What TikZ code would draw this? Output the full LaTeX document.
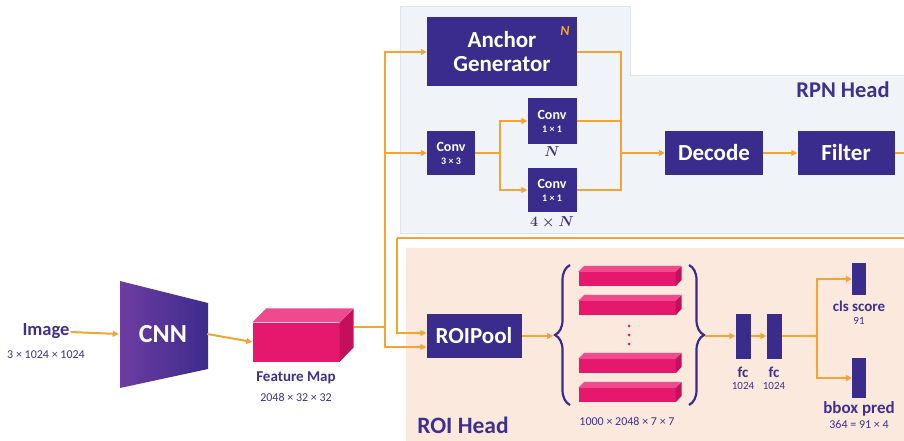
\documentclass[tikz,border=0pt]{standalone}
\usepackage{fontspec}
\setmainfont{Carlito}
\usepackage{amsmath}
\usetikzlibrary{positioning, arrows.meta, calc, decorations.pathreplacing}

\definecolor{boxpurple}{HTML}{3A2C8C}
\definecolor{textpurple}{HTML}{3F2F8F}
\definecolor{lineorange}{HTML}{F4A431}
\definecolor{cubepink}{HTML}{E6186E}
\definecolor{cubetop}{HTML}{EE4A8D}
\definecolor{cubeside}{HTML}{C40F5A}
\definecolor{rpnbg}{HTML}{F0F4F8}
\definecolor{rpnedge}{HTML}{DEE4EA}
\definecolor{roibg}{HTML}{FBE9DE}
\definecolor{cnnleft}{HTML}{6E3CA2}
\definecolor{cnnright}{HTML}{3C2C8C}

\begin{document}
\begin{tikzpicture}[x=1pt, y=-1pt,
    node distance=3pt,
    block/.style={rectangle, fill=boxpurple, text=white, align=center, inner sep=0pt,
      font=\bfseries\fontsize{23}{24}\selectfont},
    smallblock/.style={block, minimum width=48pt, minimum height=44pt,
      font=\bfseries\fontsize{14}{14}\selectfont},
    bar/.style={rectangle, fill=boxpurple, inner sep=0pt, minimum width=15pt},
    lbl/.style={text=textpurple, inner sep=1pt, font=\bfseries\fontsize{15}{16}\selectfont},
    dim/.style={text=textpurple, inner sep=1pt, font=\fontsize{12}{13}\selectfont},
    mathlbl/.style={text=textpurple, inner sep=1pt, font=\fontsize{14.4}{15}\selectfont},
    link/.style={draw=lineorange, line width=2pt},
    flow/.style={link, -{Triangle[length=6pt,width=6pt]}},
    curly/.style={draw=boxpurple, line width=2.2pt, decorate,
      decoration={brace, amplitude=15pt}},
    slab/.style={rectangle, fill=cubepink, inner sep=0pt, minimum width=97pt, minimum height=14pt}
  ]
    \useasboundingbox (0,0) rectangle (904,441);
    \clip (0,0) rectangle (904,441);

    % Head backgrounds
    \filldraw[fill=rpnbg, draw=rpnedge, thin] (400,6) -- (630,6) -- (630,75) -- (910,75)
      -- (910,233) -- (400,233) -- cycle;
    \fill[roibg] (406,248) rectangle (910,445);
    \node[text=textpurple, font=\bfseries\fontsize{22.5}{24}\selectfont] (rpnlbl) at (843,90) {RPN Head};
    \node[text=textpurple, font=\bfseries\fontsize{23.5}{25}\selectfont] (roilbl) at (463,425) {ROI Head};

    % Backbone
    \node[lbl, font=\bfseries\fontsize{18.5}{20}\selectfont] (img) at (46,331) {Image};
    \node[dim, below=10pt of img] (imgdim) {3 × 1024 × 1024};
    \shade[left color=cnnleft, right color=cnnright] (120,281) -- (208,303) -- (208,369) -- (120,388) -- cycle;
    \node[text=white, minimum width=88pt, minimum height=107pt, inner sep=0pt,
      font=\bfseries\fontsize{26}{28}\selectfont] (cnn) at (163,334) {CNN};

    % Feature map cuboid
    \node[rectangle, fill=cubepink, minimum width=87pt, minimum height=39pt, inner sep=0pt] (fmap) at (296,342) {};
    \fill[cubetop] (fmap.north west) -- ++(14,-14) -- ++(87,0) -- (fmap.north east) -- cycle;
    \fill[cubeside] (fmap.north east) -- ++(14,-14) -- ++(0,39) -- (fmap.south east) -- cycle;
    \node[lbl, below=9pt of fmap] (fmaplbl) {Feature Map};
    \node[dim, below=7pt of fmaplbl] (fmapdim) {2048 × 32 × 32};
    \coordinate (fmapout) at ($(fmap.east)+(14,-15)$);

    % RPN blocks
    \node[block, minimum width=150pt, minimum height=69pt] (anchor) at (502,52) {Anchor\\Generator};
    \node[text=lineorange, font=\bfseries\itshape\fontsize{14}{14}\selectfont] at (565,31) {N};
    \node[smallblock] (conv3) at (451,153) {Conv\\[-1pt]{\fontsize{10}{10}\selectfont 3 × 3}};
    \node[smallblock, minimum width=49pt, minimum height=45pt] (conv1a) at (552,121) {Conv\\[-1pt]{\fontsize{10}{10}\selectfont 1 × 1}};
    \node[smallblock, minimum width=49pt] (conv1b) at (552,190) {Conv\\[-1pt]{\fontsize{10}{10}\selectfont 1 × 1}};
    \node[mathlbl, below=2pt of conv1a] (nlbl) {$\boldsymbol{N}$};
    \node[mathlbl, below=3pt of conv1b] (fournlbl) {$\boldsymbol{4\times N}$};
    \node[block, minimum width=98pt, minimum height=44pt] (decode) at (714,153) {Decode};
    \node[block, minimum width=97pt, minimum height=44pt] (filter) at (846,153) {Filter};

    % ROI blocks
    \node[block, minimum width=95pt, minimum height=44pt] (roi) at (474,336) {ROIPool};
    \foreach \y [count=\i] in {279,308,366,395} {
      \node[slab] (slab\i) at (627,\y) {};
      \fill[cubetop] (slab\i.north west) -- ++(6,-6) -- ++(97,0) -- (slab\i.north east) -- cycle;
      \fill[cubeside] (slab\i.north east) -- ++(6,-6) -- ++(0,14) -- (slab\i.south east) -- cycle;
    }
    \foreach \d in {326,335,344}
      \fill[cubepink] (629,\d) circle (1.5);
    \node[dim] (slabdim) at (627,421) {1000 × 2048 × 7 × 7};
    \draw[curly] (570,405) -- (570,265);
    \draw[curly] (689,265) -- (689,405);
    \coordinate (lbtip) at (553,336);
    \coordinate (rbtip) at (705,336);

    \node[bar, minimum height=45pt] (fc1) at (743,336) {};
    \node[bar, minimum height=45pt] (fc2) at (774,336) {};
    \node[bar, minimum width=14pt, minimum height=32pt] (cls) at (859,279) {};
    \node[bar, minimum width=14pt, minimum height=40pt] (bbox) at (859,378) {};
    \node[lbl, below=7pt of fc1] (fc1lbl) {fc};
    \node[dim, font=\fontsize{11}{12}\selectfont, below=3pt of fc1lbl] {1024};
    \node[lbl, below=7pt of fc2] (fc2lbl) {fc};
    \node[dim, font=\fontsize{11}{12}\selectfont, below=3pt of fc2lbl] {1024};
    \node[lbl, below=5pt of cls] (clslbl) {cls score};
    \node[dim, font=\fontsize{11}{12}\selectfont, below=3pt of clslbl] {91};
    \node[lbl, font=\bfseries\fontsize{17}{18}\selectfont, below=2pt of bbox] (bboxlbl) {bbox pred};
    \node[dim, below=2pt of bboxlbl] {364 = 91 × 4};

    % Connectors
    \coordinate (trunk) at (385,327);
    \coordinate (csplit) at (500,153);
    \coordinate (merge) at (621,153);
    \coordinate (back) at (397,238);
    \coordinate (fsplit) at (817,336);

    \draw[flow] (img) -- (cnn.west);
    \draw[flow] (cnn.east) -- (fmap.west);
    \draw[link] (fmapout) -- (trunk);
    \draw[flow] (trunk) |- (anchor.west);
    \draw[flow] (trunk) |- (conv3.west);
    \draw[flow] (trunk) |- ([yshift=-11pt]roi.west);
    \draw[link] (conv3.east) -- (csplit);
    \draw[flow] (csplit) |- (conv1a.west);
    \draw[flow] (csplit) |- (conv1b.west);
    \draw[link] (anchor.east) -| (merge);
    \draw[link] (conv1a.east) -| (merge);
    \draw[link] (conv1b.east) -| (merge);
    \draw[flow] (merge) -- (decode.west);
    \draw[flow] (decode) -- (filter);
    \draw[link] (filter.east) -- ++(30,0) |- (back);
    \draw[flow] (back) |- ([yshift=3pt]roi.west);
    \draw[flow] (roi.east) -- (lbtip);
    \draw[flow] (rbtip) -- (fc1.west);
    \draw[flow] (fc1) -- (fc2);
    \draw[link] (fc2.east) -- (fsplit);
    \draw[flow] (fsplit) |- (cls.west);
    \draw[flow] (fsplit) |- (bbox.west);
\end{tikzpicture}
\end{document}
